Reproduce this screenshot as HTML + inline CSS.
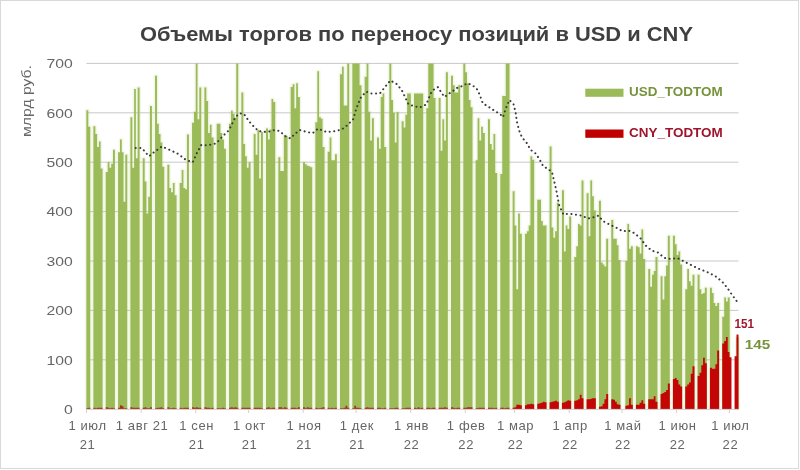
<!DOCTYPE html>
<html lang="ru"><head><meta charset="utf-8"><title>Объемы торгов</title>
<style>
html,body{margin:0;padding:0;background:#fff;}
body{width:800px;height:470px;overflow:hidden;position:relative;font-family:"Liberation Sans",sans-serif;}
svg{position:absolute;left:0;top:0;display:block}
text{font-family:"Liberation Sans",sans-serif}
</style></head><body>
<svg width="800" height="470" viewBox="0 0 800 470">
<rect x="0" y="0" width="800" height="470" fill="#fff"/>
<rect x="0.5" y="0.5" width="798" height="468" fill="none" stroke="#d9d9d9" stroke-width="1"/>
<text x="140" y="41.4" font-size="20" font-weight="bold" fill="#404040" textLength="553" lengthAdjust="spacingAndGlyphs">Объемы торгов по переносу позиций в USD и CNY</text>
<g stroke="#c9c9c9" stroke-width="1"><line x1="86.5" x2="738.5" y1="359.8" y2="359.8"/><line x1="86.5" x2="738.5" y1="310.4" y2="310.4"/><line x1="86.5" x2="738.5" y1="261.0" y2="261.0"/><line x1="86.5" x2="738.5" y1="211.6" y2="211.6"/><line x1="86.5" x2="738.5" y1="162.2" y2="162.2"/><line x1="86.5" x2="738.5" y1="112.8" y2="112.8"/><line x1="86.5" x2="738.5" y1="63.4" y2="63.4"/></g>
<clipPath id="pc"><rect x="80" y="63.3" width="665" height="346"/></clipPath>
<path fill="none" stroke="#b5cf6a" stroke-opacity="0.16" stroke-width="3" stroke-linejoin="round" clip-path="url(#pc)" d="M86.35 409.20V110.33H88.31V126.63H90.27V409.20ZM93.40 409.20V126.14H95.36V134.04H97.12V146.89H98.88V141.45H100.64V168.62H102.60V409.20ZM105.73 409.20V172.08H107.69V162.20H109.45V167.63H111.21V163.68H112.97V149.85H114.93V409.20ZM118.06 409.20V152.32H120.02V139.48H121.78V152.32H123.54V201.72H125.30V154.79H127.26V409.20ZM130.39 409.20V117.25H132.35V167.63H134.11V89.09H135.87V158.25H137.63V87.61H139.59V409.20ZM142.72 409.20V158.25H144.68V181.47H146.44V213.58H148.20V196.78H149.96V105.88H151.93V409.20ZM155.05 409.20V75.75H157.01V123.67H158.77V134.04H160.53V142.44H162.29V166.65H164.26V409.20ZM167.38 409.20V164.67H169.34V187.89H171.10V192.33H172.86V182.95H174.62V195.30H176.59V409.20ZM179.71 409.20V182.95H181.67V170.10H183.43V187.89H185.19V189.37H186.96V134.54H188.92V409.20ZM192.04 409.20V122.68H194.00V111.81H195.76V63.40H197.52V119.22H199.29V87.61H201.25V409.20ZM204.37 409.20V87.61H206.33V100.94H208.09V133.05H209.86V124.66H211.62V137.50H213.58V409.20ZM216.70 409.20V123.67H218.66V123.67H220.42V133.05H222.19V139.48H223.95V148.86H225.91V409.20ZM229.03 409.20V123.67H230.99V110.82H232.75V113.79H234.52V117.74H236.28V63.40H238.24V409.20ZM241.36 409.20V92.55H243.32V143.92H245.08V156.27H246.85V167.63H248.61V162.20H250.57V409.20ZM253.69 409.20V134.04H255.65V154.79H257.42V130.09H259.18V178.50H260.94V132.07H262.90V409.20ZM266.02 409.20V128.61H267.98V139.48H269.75V129.60H271.51V98.97H273.27V101.93H275.23V409.20ZM278.35 409.20V157.26H280.31V171.09H282.08V171.09H283.84V135.03H285.60V136.02H287.56V409.20ZM290.68 409.20V87.11H292.65V84.15H294.41V108.35H296.17V83.16H297.93V96.99H299.89V409.20ZM303.01 409.20V162.20H304.98V164.18H306.74V165.66H308.50V166.15H310.26V167.14H312.22V409.20ZM315.35 409.20V122.19H317.31V71.30H319.07V117.25H320.83V118.73H322.59V146.89H324.55V409.20ZM327.68 409.20V151.83H329.64V137.50H331.40V160.22H333.16V160.22H334.92V154.30H336.88V409.20ZM340.01 409.20V74.27H341.97V66.86H343.73V105.39H345.49V105.39H347.25V63.40H349.21V409.20ZM352.34 409.20V63.40H354.30V63.40H356.06V63.40H357.82V63.40H359.58V85.14H361.54V409.20ZM364.67 409.20V76.74H366.63V63.40H368.39V111.81H370.15V140.46H371.91V118.23H373.87V409.20ZM377.00 409.20V137.50H378.96V148.86H380.72V96.99H382.48V93.53H384.24V146.89H386.20V409.20ZM389.33 409.20V63.40H391.29V99.96H393.05V112.80H394.81V142.44H396.57V112.31H398.54V409.20ZM401.66 409.20V121.20H403.62V127.62H405.38V114.78H407.14V93.53H408.90V93.53H410.87V409.20ZM413.99 409.20V93.53H415.95V93.53H417.71V93.53H419.47V93.53H421.24V93.53H423.20V409.20ZM426.32 409.20V108.35H428.28V63.40H430.04V63.40H431.80V63.40H433.57V97.98H435.53V409.20ZM438.65 409.20V97.98H440.61V150.84H442.37V119.22H444.13V140.46H445.90V72.29H447.86V409.20ZM450.98 409.20V75.75H452.94V85.14H454.70V92.55H456.47V92.55H458.23V85.14H460.19V409.20ZM463.31 409.20V63.40H465.27V72.29H467.03V83.16H468.80V99.96H470.56V107.37H472.52V409.20ZM475.64 409.20V160.22H477.60V118.23H479.36V140.46H481.13V126.63H482.89V133.05H484.85V409.20ZM487.97 409.20V119.22H489.93V143.92H491.70V149.85H493.46V134.04H495.22V173.07H497.18V409.20ZM500.30 409.20V174.06H502.26V96.00H504.03V96.00H505.79V63.40H507.55V63.40H509.51V409.20ZM512.63 409.20V191.35H514.59V225.43H516.36V289.16H518.12V213.58H519.88V233.83H521.84V409.20ZM524.96 409.20V233.83H526.92V231.36H528.69V225.43H530.45V156.27H532.21V159.73H534.17V409.20ZM537.29 409.20V199.74H539.26V199.74H541.02V220.99H542.78V225.43H544.54V225.43H546.50V409.20ZM549.62 409.20V146.39H551.59V227.41H553.35V237.78H555.11V231.36H556.87V202.71H558.83V409.20ZM561.95 409.20V190.36H563.92V251.61H565.68V225.43H567.44V228.89H569.20V216.54H571.16V409.20ZM574.29 409.20V257.05H576.25V246.18H578.01V223.95H579.77V225.43H581.53V180.48H583.49V409.20ZM586.62 409.20V193.32H588.58V236.30H590.34V180.48H592.10V196.29H593.86V210.61H595.82V409.20ZM598.95 409.20V200.73H600.91V262.48H602.67V264.46H604.43V266.43H606.19V238.77H608.15V409.20ZM611.28 409.20V220.00H613.24V238.77H615.00V238.77H616.76V245.19H618.52V260.01H620.48V409.20ZM625.37 409.20V261.00H627.33V223.95H629.09V248.65H630.85V246.18H632.82V409.20ZM635.94 409.20V246.18H637.90V247.17H639.66V253.59H641.42V229.38H643.18V259.02H645.15V409.20ZM648.27 409.20V268.90H650.23V286.69H651.99V274.83H653.75V270.88H655.51V257.05H657.48V409.20ZM660.60 409.20V276.31H662.56V299.53H664.32V276.31H666.08V265.45H667.85V235.81H669.81V409.20ZM672.93 409.20V235.81H674.89V244.20H676.65V255.07H678.41V251.61H680.18V264.46H682.14V409.20ZM685.26 409.20V289.16H687.22V268.90H688.98V281.25H690.74V285.70H692.51V274.83H694.47V409.20ZM697.59 409.20V274.83H699.55V289.16H701.31V294.10H703.07V293.11H704.84V287.68H706.80V409.20ZM709.92 409.20V287.68H711.88V293.11H713.64V302.99H715.41V305.95H717.17V302.99H719.13V409.20ZM722.25 409.20V316.82H724.21V297.56H725.97V301.51H727.74V297.56H729.70V409.20ZM736.34 409.20V337.57H738.50V409.20Z"/>
<path fill="#9bbb59" d="M86.35 409.20V110.33H88.31V126.63H90.27V409.20ZM93.40 409.20V126.14H95.36V134.04H97.12V146.89H98.88V141.45H100.64V168.62H102.60V409.20ZM105.73 409.20V172.08H107.69V162.20H109.45V167.63H111.21V163.68H112.97V149.85H114.93V409.20ZM118.06 409.20V152.32H120.02V139.48H121.78V152.32H123.54V201.72H125.30V154.79H127.26V409.20ZM130.39 409.20V117.25H132.35V167.63H134.11V89.09H135.87V158.25H137.63V87.61H139.59V409.20ZM142.72 409.20V158.25H144.68V181.47H146.44V213.58H148.20V196.78H149.96V105.88H151.93V409.20ZM155.05 409.20V75.75H157.01V123.67H158.77V134.04H160.53V142.44H162.29V166.65H164.26V409.20ZM167.38 409.20V164.67H169.34V187.89H171.10V192.33H172.86V182.95H174.62V195.30H176.59V409.20ZM179.71 409.20V182.95H181.67V170.10H183.43V187.89H185.19V189.37H186.96V134.54H188.92V409.20ZM192.04 409.20V122.68H194.00V111.81H195.76V63.40H197.52V119.22H199.29V87.61H201.25V409.20ZM204.37 409.20V87.61H206.33V100.94H208.09V133.05H209.86V124.66H211.62V137.50H213.58V409.20ZM216.70 409.20V123.67H218.66V123.67H220.42V133.05H222.19V139.48H223.95V148.86H225.91V409.20ZM229.03 409.20V123.67H230.99V110.82H232.75V113.79H234.52V117.74H236.28V63.40H238.24V409.20ZM241.36 409.20V92.55H243.32V143.92H245.08V156.27H246.85V167.63H248.61V162.20H250.57V409.20ZM253.69 409.20V134.04H255.65V154.79H257.42V130.09H259.18V178.50H260.94V132.07H262.90V409.20ZM266.02 409.20V128.61H267.98V139.48H269.75V129.60H271.51V98.97H273.27V101.93H275.23V409.20ZM278.35 409.20V157.26H280.31V171.09H282.08V171.09H283.84V135.03H285.60V136.02H287.56V409.20ZM290.68 409.20V87.11H292.65V84.15H294.41V108.35H296.17V83.16H297.93V96.99H299.89V409.20ZM303.01 409.20V162.20H304.98V164.18H306.74V165.66H308.50V166.15H310.26V167.14H312.22V409.20ZM315.35 409.20V122.19H317.31V71.30H319.07V117.25H320.83V118.73H322.59V146.89H324.55V409.20ZM327.68 409.20V151.83H329.64V137.50H331.40V160.22H333.16V160.22H334.92V154.30H336.88V409.20ZM340.01 409.20V74.27H341.97V66.86H343.73V105.39H345.49V105.39H347.25V63.40H349.21V409.20ZM352.34 409.20V63.40H354.30V63.40H356.06V63.40H357.82V63.40H359.58V85.14H361.54V409.20ZM364.67 409.20V76.74H366.63V63.40H368.39V111.81H370.15V140.46H371.91V118.23H373.87V409.20ZM377.00 409.20V137.50H378.96V148.86H380.72V96.99H382.48V93.53H384.24V146.89H386.20V409.20ZM389.33 409.20V63.40H391.29V99.96H393.05V112.80H394.81V142.44H396.57V112.31H398.54V409.20ZM401.66 409.20V121.20H403.62V127.62H405.38V114.78H407.14V93.53H408.90V93.53H410.87V409.20ZM413.99 409.20V93.53H415.95V93.53H417.71V93.53H419.47V93.53H421.24V93.53H423.20V409.20ZM426.32 409.20V108.35H428.28V63.40H430.04V63.40H431.80V63.40H433.57V97.98H435.53V409.20ZM438.65 409.20V97.98H440.61V150.84H442.37V119.22H444.13V140.46H445.90V72.29H447.86V409.20ZM450.98 409.20V75.75H452.94V85.14H454.70V92.55H456.47V92.55H458.23V85.14H460.19V409.20ZM463.31 409.20V63.40H465.27V72.29H467.03V83.16H468.80V99.96H470.56V107.37H472.52V409.20ZM475.64 409.20V160.22H477.60V118.23H479.36V140.46H481.13V126.63H482.89V133.05H484.85V409.20ZM487.97 409.20V119.22H489.93V143.92H491.70V149.85H493.46V134.04H495.22V173.07H497.18V409.20ZM500.30 409.20V174.06H502.26V96.00H504.03V96.00H505.79V63.40H507.55V63.40H509.51V409.20ZM512.63 409.20V191.35H514.59V225.43H516.36V289.16H518.12V213.58H519.88V233.83H521.84V409.20ZM524.96 409.20V233.83H526.92V231.36H528.69V225.43H530.45V156.27H532.21V159.73H534.17V409.20ZM537.29 409.20V199.74H539.26V199.74H541.02V220.99H542.78V225.43H544.54V225.43H546.50V409.20ZM549.62 409.20V146.39H551.59V227.41H553.35V237.78H555.11V231.36H556.87V202.71H558.83V409.20ZM561.95 409.20V190.36H563.92V251.61H565.68V225.43H567.44V228.89H569.20V216.54H571.16V409.20ZM574.29 409.20V257.05H576.25V246.18H578.01V223.95H579.77V225.43H581.53V180.48H583.49V409.20ZM586.62 409.20V193.32H588.58V236.30H590.34V180.48H592.10V196.29H593.86V210.61H595.82V409.20ZM598.95 409.20V200.73H600.91V262.48H602.67V264.46H604.43V266.43H606.19V238.77H608.15V409.20ZM611.28 409.20V220.00H613.24V238.77H615.00V238.77H616.76V245.19H618.52V260.01H620.48V409.20ZM625.37 409.20V261.00H627.33V223.95H629.09V248.65H630.85V246.18H632.82V409.20ZM635.94 409.20V246.18H637.90V247.17H639.66V253.59H641.42V229.38H643.18V259.02H645.15V409.20ZM648.27 409.20V268.90H650.23V286.69H651.99V274.83H653.75V270.88H655.51V257.05H657.48V409.20ZM660.60 409.20V276.31H662.56V299.53H664.32V276.31H666.08V265.45H667.85V235.81H669.81V409.20ZM672.93 409.20V235.81H674.89V244.20H676.65V255.07H678.41V251.61H680.18V264.46H682.14V409.20ZM685.26 409.20V289.16H687.22V268.90H688.98V281.25H690.74V285.70H692.51V274.83H694.47V409.20ZM697.59 409.20V274.83H699.55V289.16H701.31V294.10H703.07V293.11H704.84V287.68H706.80V409.20ZM709.92 409.20V287.68H711.88V293.11H713.64V302.99H715.41V305.95H717.17V302.99H719.13V409.20ZM722.25 409.20V316.82H724.21V297.56H725.97V301.51H727.74V297.56H729.70V409.20ZM736.34 409.20V337.57H738.50V409.20Z"/>
<path fill="#a9301a" d="M86.35 409.20V408.21H88.31V407.72H90.27V409.20ZM93.40 409.20V407.72H95.36V408.21H97.12V407.72H98.88V407.72H100.64V407.72H102.60V409.20ZM105.73 409.20V407.22H107.69V407.72H109.45V408.21H111.21V407.72H112.97V408.21H114.93V409.20ZM118.06 409.20V407.72H120.02V405.25H121.78V406.24H123.54V408.21H125.30V408.21H127.26V409.20ZM130.39 409.20V407.22H132.35V407.72H134.11V407.72H135.87V407.72H137.63V407.72H139.59V409.20ZM142.72 409.20V407.72H144.68V407.22H146.44V408.21H148.20V408.21H149.96V407.22H151.93V409.20ZM155.05 409.20V408.21H157.01V407.72H158.77V407.72H160.53V407.22H162.29V408.21H164.26V409.20ZM167.38 409.20V407.22H169.34V408.21H171.10V408.21H172.86V407.72H174.62V408.21H176.59V409.20ZM179.71 409.20V407.72H181.67V408.21H183.43V407.72H185.19V407.72H186.96V407.72H188.92V409.20ZM192.04 409.20V407.22H194.00V407.72H195.76V407.22H197.52V407.72H199.29V407.72H201.25V409.20ZM204.37 409.20V407.22H206.33V407.72H208.09V407.72H209.86V408.21H211.62V407.72H213.58V409.20ZM216.70 409.20V408.21H218.66V408.21H220.42V408.21H222.19V407.72H223.95V408.21H225.91V409.20ZM229.03 409.20V407.72H230.99V407.22H232.75V407.72H234.52V407.22H236.28V407.72H238.24V409.20ZM241.36 409.20V407.72H243.32V407.72H245.08V407.72H246.85V407.72H248.61V407.72H250.57V409.20ZM253.69 409.20V407.72H255.65V407.72H257.42V407.72H259.18V407.72H260.94V408.21H262.90V409.20ZM266.02 409.20V407.72H267.98V407.22H269.75V408.21H271.51V407.72H273.27V407.72H275.23V409.20ZM278.35 409.20V407.22H280.31V407.22H282.08V408.21H283.84V407.22H285.60V407.72H287.56V409.20ZM290.68 409.20V407.72H292.65V407.72H294.41V407.72H296.17V408.21H297.93V407.22H299.89V409.20ZM303.01 409.20V407.22H304.98V408.21H306.74V407.22H308.50V407.72H310.26V407.72H312.22V409.20ZM315.35 409.20V407.72H317.31V408.21H319.07V408.21H320.83V407.72H322.59V407.22H324.55V409.20ZM327.68 409.20V407.72H329.64V408.21H331.40V407.72H333.16V408.21H334.92V407.72H336.88V409.20ZM340.01 409.20V408.21H341.97V408.21H343.73V407.72H345.49V405.74H347.25V407.72H349.21V409.20ZM352.34 409.20V408.21H354.30V405.74H356.06V407.72H357.82V407.72H359.58V408.21H361.54V409.20ZM364.67 409.20V407.72H366.63V407.22H368.39V407.72H370.15V407.72H371.91V407.72H373.87V409.20ZM377.00 409.20V407.72H378.96V407.72H380.72V408.21H382.48V408.21H384.24V407.72H386.20V409.20ZM389.33 409.20V408.21H391.29V408.21H393.05V408.21H394.81V407.72H396.57V407.72H398.54V409.20ZM401.66 409.20V408.21H403.62V408.21H405.38V407.72H407.14V407.72H408.90V407.72H410.87V409.20ZM413.99 409.20V407.72H415.95V408.21H417.71V407.22H419.47V408.21H421.24V407.72H423.20V409.20ZM426.32 409.20V407.72H428.28V407.72H430.04V408.21H431.80V407.72H433.57V407.72H435.53V409.20ZM438.65 409.20V407.72H440.61V407.72H442.37V407.72H444.13V407.22H445.90V407.72H447.86V409.20ZM450.98 409.20V407.22H452.94V407.72H454.70V408.21H456.47V407.72H458.23V407.72H460.19V409.20ZM463.31 409.20V407.72H465.27V407.72H467.03V407.22H468.80V407.22H470.56V407.22H472.52V409.20ZM475.64 409.20V408.21H477.60V407.72H479.36V407.72H481.13V407.72H482.89V407.72H484.85V409.20ZM487.97 409.20V407.72H489.93V407.72H491.70V407.72H493.46V408.21H495.22V407.72H497.18V409.20ZM500.30 409.20V407.72H502.26V407.72H504.03V408.21H505.79V407.72H507.55V407.72H509.51V409.20Z"/>
<path fill="#c30505" d="M512.63 409.20V407.72H514.59V407.22H516.36V404.75H518.12V404.75H519.88V405.25H521.84V409.20ZM524.96 409.20V405.25H526.92V404.26H528.69V404.26H530.45V403.77H532.21V404.26H534.17V409.20ZM537.29 409.20V403.77H539.26V403.27H541.02V402.78H542.78V401.79H544.54V402.28H546.50V409.20ZM549.62 409.20V402.28H551.59V401.79H553.35V401.30H555.11V400.80H556.87V401.79H558.83V409.20ZM561.95 409.20V402.78H563.92V402.28H565.68V401.30H567.44V400.31H569.20V400.80H571.16V409.20ZM574.29 409.20V400.80H576.25V400.31H578.01V399.32H579.77V394.87H581.53V398.33H583.49V409.20ZM586.62 409.20V399.32H588.58V399.32H590.34V398.83H592.10V398.33H593.86V398.33H595.82V409.20ZM598.95 409.20V406.73H600.91V406.24H602.67V403.77H604.43V399.32H606.19V393.89H608.15V409.20ZM611.28 409.20V399.32H613.24V399.81H615.00V401.79H616.76V404.26H618.52V404.75H620.48V409.20ZM625.37 409.20V405.74H627.33V405.25H629.09V398.33H630.85V404.75H632.82V409.20ZM635.94 409.20V404.75H637.90V404.75H639.66V402.78H641.42V400.31H643.18V403.77H645.15V409.20ZM648.27 409.20V399.32H650.23V399.32H651.99V399.32H653.75V396.36H655.51V401.79H657.48V409.20ZM660.60 409.20V393.89H662.56V392.90H664.32V391.91H666.08V389.93H667.85V383.51H669.81V409.20ZM672.93 409.20V379.07H674.89V378.08H676.65V380.05H678.41V384.50H680.18V386.48H682.14V409.20ZM685.26 409.20V386.48H687.22V384.50H688.98V382.52H690.74V373.63H692.51V366.22H694.47V409.20ZM697.59 409.20V376.10H699.55V372.64H701.31V365.23H703.07V357.82H704.84V363.26H706.80V409.20ZM709.92 409.20V367.70H711.88V368.69H713.64V368.69H715.41V364.25H717.17V350.41H719.13V409.20ZM722.25 409.20V343.50H724.21V341.03H725.97V337.08H727.74V351.90H729.50V357.33H731.46V409.20ZM734.58 409.20V356.34H736.54V334.61H738.50V409.20Z"/>
<g stroke="#d2d2d2" stroke-width="1"><line x1="86.5" x2="738.5" y1="409.4" y2="409.4"/><line x1="86.5" x2="86.5" y1="409.2" y2="413"/><line x1="141.2" x2="141.2" y1="409.2" y2="413"/><line x1="195.8" x2="195.8" y1="409.2" y2="413"/><line x1="248.6" x2="248.6" y1="409.2" y2="413"/><line x1="303.2" x2="303.2" y1="409.2" y2="413"/><line x1="356.1" x2="356.1" y1="409.2" y2="413"/><line x1="410.7" x2="410.7" y1="409.2" y2="413"/><line x1="465.3" x2="465.3" y1="409.2" y2="413"/><line x1="514.6" x2="514.6" y1="409.2" y2="413"/><line x1="569.2" x2="569.2" y1="409.2" y2="413"/><line x1="622.0" x2="622.0" y1="409.2" y2="413"/><line x1="676.7" x2="676.7" y1="409.2" y2="413"/><line x1="729.5" x2="729.5" y1="409.2" y2="413"/></g>
<polyline fill="none" stroke="#3a3a3a" stroke-width="2" stroke-linecap="round" stroke-dasharray="0.1 4.5" points="135.7,147.9 141.7,147.9 149.0,156.3 154.5,151.8 162.0,146.4 169.4,149.8 177.9,153.8 186.4,160.2 192.8,162.2 197.0,152.8 201.3,144.9 207.7,145.4 216.2,143.4 221.5,137.5 229.0,130.1 235.3,117.2 239.6,113.3 243.8,113.8 249.0,121.2 252.0,124.7 258.5,131.1 267.0,132.1 274.5,130.1 279.8,131.1 285.0,136.0 290.4,138.5 294.7,134.0 300.0,130.1 307.4,132.1 312.8,133.1 318.0,128.6 326.6,132.1 335.0,131.1 341.5,129.6 347.9,124.7 353.2,119.2 356.4,108.4 360.6,98.0 366.0,91.6 371.3,93.5 379.8,93.5 385.0,87.1 390.4,80.4 396.8,84.1 402.0,90.6 408.5,104.4 415.0,106.4 420.0,107.4 426.4,104.4 430.6,93.5 433.8,89.6 438.0,87.1 441.3,92.5 444.5,97.0 447.7,94.5 452.0,91.6 458.3,87.1 462.6,86.1 467.2,83.2 472.0,85.1 476.4,88.1 479.6,94.5 482.8,103.4 488.0,106.4 494.5,110.8 499.8,113.8 503.0,117.2 506.2,107.4 509.4,100.0 513.6,104.4 515.7,112.8 516.8,121.2 519.0,130.1 522.0,137.5 526.4,142.4 530.6,149.8 536.0,153.8 540.0,160.2 543.4,166.6 547.7,168.6 552.0,172.1 554.0,180.5 556.0,188.9 557.9,198.8 559.4,206.2 563.6,214.6 569.0,213.6 575.3,214.6 581.7,215.6 588.0,218.5 592.0,217.8 598.5,215.6 602.8,221.0 611.3,225.4 617.7,228.4 623.0,231.4 628.3,230.4 634.7,233.3 641.0,238.8 645.3,245.2 651.7,250.6 658.0,252.6 664.5,258.0 670.9,259.0 677.2,258.0 683.6,261.2 690.0,264.5 698.5,268.7 707.0,271.9 715.5,276.3 722.0,281.5 727.2,287.7 731.5,294.1 736.8,301.3"/>
<g font-size="13" fill="#666666"><text x="63.9" y="413.9" textLength="8.8" lengthAdjust="spacingAndGlyphs">0</text><text x="46.4" y="364.5" textLength="26.3" lengthAdjust="spacingAndGlyphs">100</text><text x="46.4" y="315.1" textLength="26.3" lengthAdjust="spacingAndGlyphs">200</text><text x="46.4" y="265.7" textLength="26.3" lengthAdjust="spacingAndGlyphs">300</text><text x="46.4" y="216.3" textLength="26.3" lengthAdjust="spacingAndGlyphs">400</text><text x="46.4" y="166.9" textLength="26.3" lengthAdjust="spacingAndGlyphs">500</text><text x="46.4" y="117.5" textLength="26.3" lengthAdjust="spacingAndGlyphs">600</text><text x="46.4" y="68.1" textLength="26.3" lengthAdjust="spacingAndGlyphs">700</text></g>
<g font-size="13" fill="#666666" letter-spacing="0.6"><text x="87.5" y="429.8" text-anchor="middle">1 июл</text><text x="87.5" y="448.6" text-anchor="middle">21</text><text x="142.1" y="429.8" text-anchor="middle">1 авг 21</text><text x="196.7" y="429.8" text-anchor="middle">1 сен</text><text x="196.7" y="448.6" text-anchor="middle">21</text><text x="249.5" y="429.8" text-anchor="middle">1 окт</text><text x="249.5" y="448.6" text-anchor="middle">21</text><text x="304.1" y="429.8" text-anchor="middle">1 ноя</text><text x="304.1" y="448.6" text-anchor="middle">21</text><text x="357.0" y="429.8" text-anchor="middle">1 дек</text><text x="357.0" y="448.6" text-anchor="middle">21</text><text x="411.6" y="429.8" text-anchor="middle">1 янв</text><text x="411.6" y="448.6" text-anchor="middle">22</text><text x="466.2" y="429.8" text-anchor="middle">1 фев</text><text x="466.2" y="448.6" text-anchor="middle">22</text><text x="515.5" y="429.8" text-anchor="middle">1 мар</text><text x="515.5" y="448.6" text-anchor="middle">22</text><text x="570.1" y="429.8" text-anchor="middle">1 апр</text><text x="570.1" y="448.6" text-anchor="middle">22</text><text x="622.9" y="429.8" text-anchor="middle">1 май</text><text x="622.9" y="448.6" text-anchor="middle">22</text><text x="677.6" y="429.8" text-anchor="middle">1 июн</text><text x="677.6" y="448.6" text-anchor="middle">22</text><text x="730.4" y="429.8" text-anchor="middle">1 июл</text><text x="730.4" y="448.6" text-anchor="middle">22</text></g>
<text transform="translate(30.8,137) rotate(-90)" font-size="13" fill="#666666" textLength="72" lengthAdjust="spacingAndGlyphs">млрд руб.</text>
<rect x="585.3" y="88.7" width="38.2" height="8.1" fill="#9bbb59"/>
<text x="629" y="96.2" font-size="12" font-weight="bold" fill="#77933c" textLength="93.6" lengthAdjust="spacingAndGlyphs">USD_TODTOM</text>
<rect x="585.3" y="129.5" width="38.2" height="8.3" fill="#c00000"/>
<text x="629" y="136.6" font-size="12" font-weight="bold" fill="#a0142d" textLength="93.8" lengthAdjust="spacingAndGlyphs">CNY_TODTOM</text>
<text x="734.5" y="327.8" font-size="12.5" font-weight="bold" fill="#a0142d" textLength="19.5" lengthAdjust="spacingAndGlyphs">151</text>
<text x="744.8" y="349.0" font-size="12.5" font-weight="bold" fill="#77933c" textLength="25.5" lengthAdjust="spacingAndGlyphs">145</text>
</svg>
</body></html>
